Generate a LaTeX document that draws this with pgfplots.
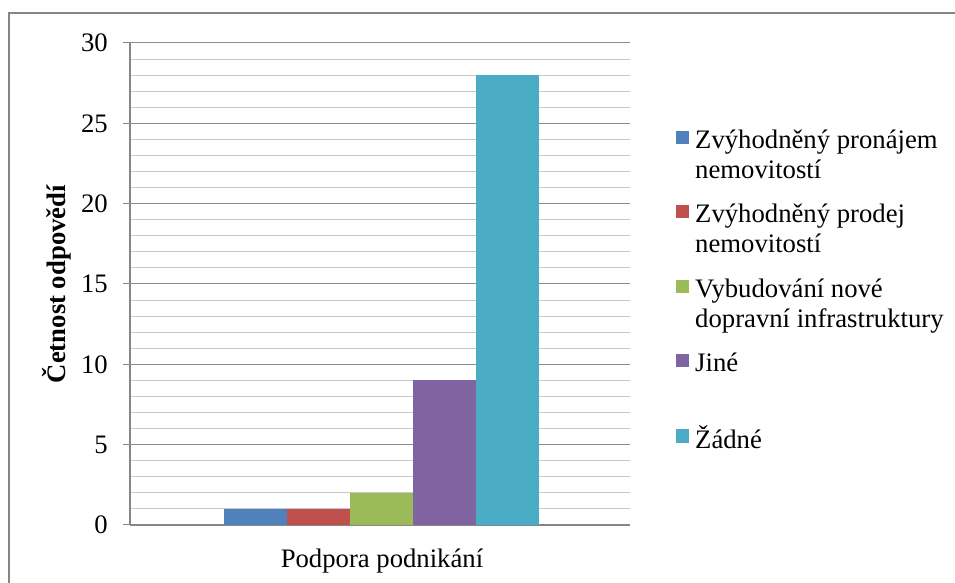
\documentclass[border=0pt]{standalone}
\usepackage{fontspec}
\setmainfont{Liberation Serif}
\usepackage{pgfplots}
\pgfplotsset{compat=1.18}
\definecolor{c1}{HTML}{4F81BD}
\definecolor{c2}{HTML}{C0504D}
\definecolor{c3}{HTML}{9BBB59}
\definecolor{c4}{HTML}{8064A2}
\definecolor{c5}{HTML}{4BACC6}
\definecolor{axgray}{HTML}{868686}
\definecolor{majgray}{HTML}{8C8C8C}
\definecolor{mingray}{HTML}{C8C8C8}
\begin{document}
\begin{tikzpicture}[font=\fontsize{26.7}{30}\selectfont, x=1pt, y=1pt]
\path[use as bounding box] (0,0) rectangle (955,583);
\draw[color=axgray, line width=1.3pt] (9,0) -- (9,570) -- (955,570);
\begin{axis}[
  at={(130pt,58pt)}, anchor=south west,
  width=500pt, height=482pt, scale only axis,
  xmin=-4.0, xmax=3.937, ymin=0, ymax=30,
  axis lines*=left,
  axis line style={color=axgray, line width=1.2pt},
  ytick={0,5,...,30}, minor y tick num=4,
  ymajorgrids, yminorgrids,
  major grid style={color=majgray, line width=1pt},
  minor grid style={color=mingray, line width=1pt},
  tick align=outside, major tick length=7pt, minor tick length=0pt,
  ytick style={color=axgray, line width=1pt},
  xtick={0}, xticklabels={Podpora podnikání},
  xtick style={draw=none},
  /pgf/number format/assume math mode=true,
  yticklabel style={anchor=east, inner sep=0pt, xshift=-15pt},
  xticklabel style={anchor=base, inner sep=0pt, yshift=-35pt},
  ylabel={\textbf{Četnost odpovědí}},
  ylabel style={at={(axis description cs:-0.146,0.5)}, anchor=center, inner sep=0pt},
  legend style={at={(axis description cs:1.092,0.8257)}, anchor=north west,
    draw=none, fill=none, inner sep=0pt, row sep=14.5pt, column sep=6pt,
    cells={anchor=base west}, nodes={inner sep=0pt, text depth={}, text height={}}},
  legend cell align=left,
  legend image code/.code={\fill[#1] (0pt,13.3pt) rectangle (13pt,26.7pt);},
]
\addplot[ybar, bar width=1, bar shift=0pt, fill=c1, draw=none] coordinates {(-2,1)};
\addlegendentry{\begin{tabular}[t]{@{}l@{}}Zvýhodněný pronájem\\nemovitostí\end{tabular}}
\addplot[ybar, bar width=1, bar shift=0pt, fill=c2, draw=none] coordinates {(-1,1)};
\addlegendentry{\begin{tabular}[t]{@{}l@{}}Zvýhodněný prodej\\nemovitostí\end{tabular}}
\addplot[ybar, bar width=1, bar shift=0pt, fill=c3, draw=none] coordinates {(0,2)};
\addlegendentry{\begin{tabular}[t]{@{}l@{}}Vybudování nové\\dopravní infrastruktury\end{tabular}}
\addplot[ybar, bar width=1, bar shift=0pt, fill=c4, draw=none] coordinates {(1,9)};
\addlegendentry{\begin{tabular}[t]{@{}l@{}}Jiné\\\mbox{}\end{tabular}}
\addplot[ybar, bar width=1, bar shift=0pt, fill=c5, draw=none] coordinates {(2,28)};
\addlegendentry{\begin{tabular}[t]{@{}l@{}}Žádné\\\mbox{}\end{tabular}}
\end{axis}
\end{tikzpicture}
\end{document}
